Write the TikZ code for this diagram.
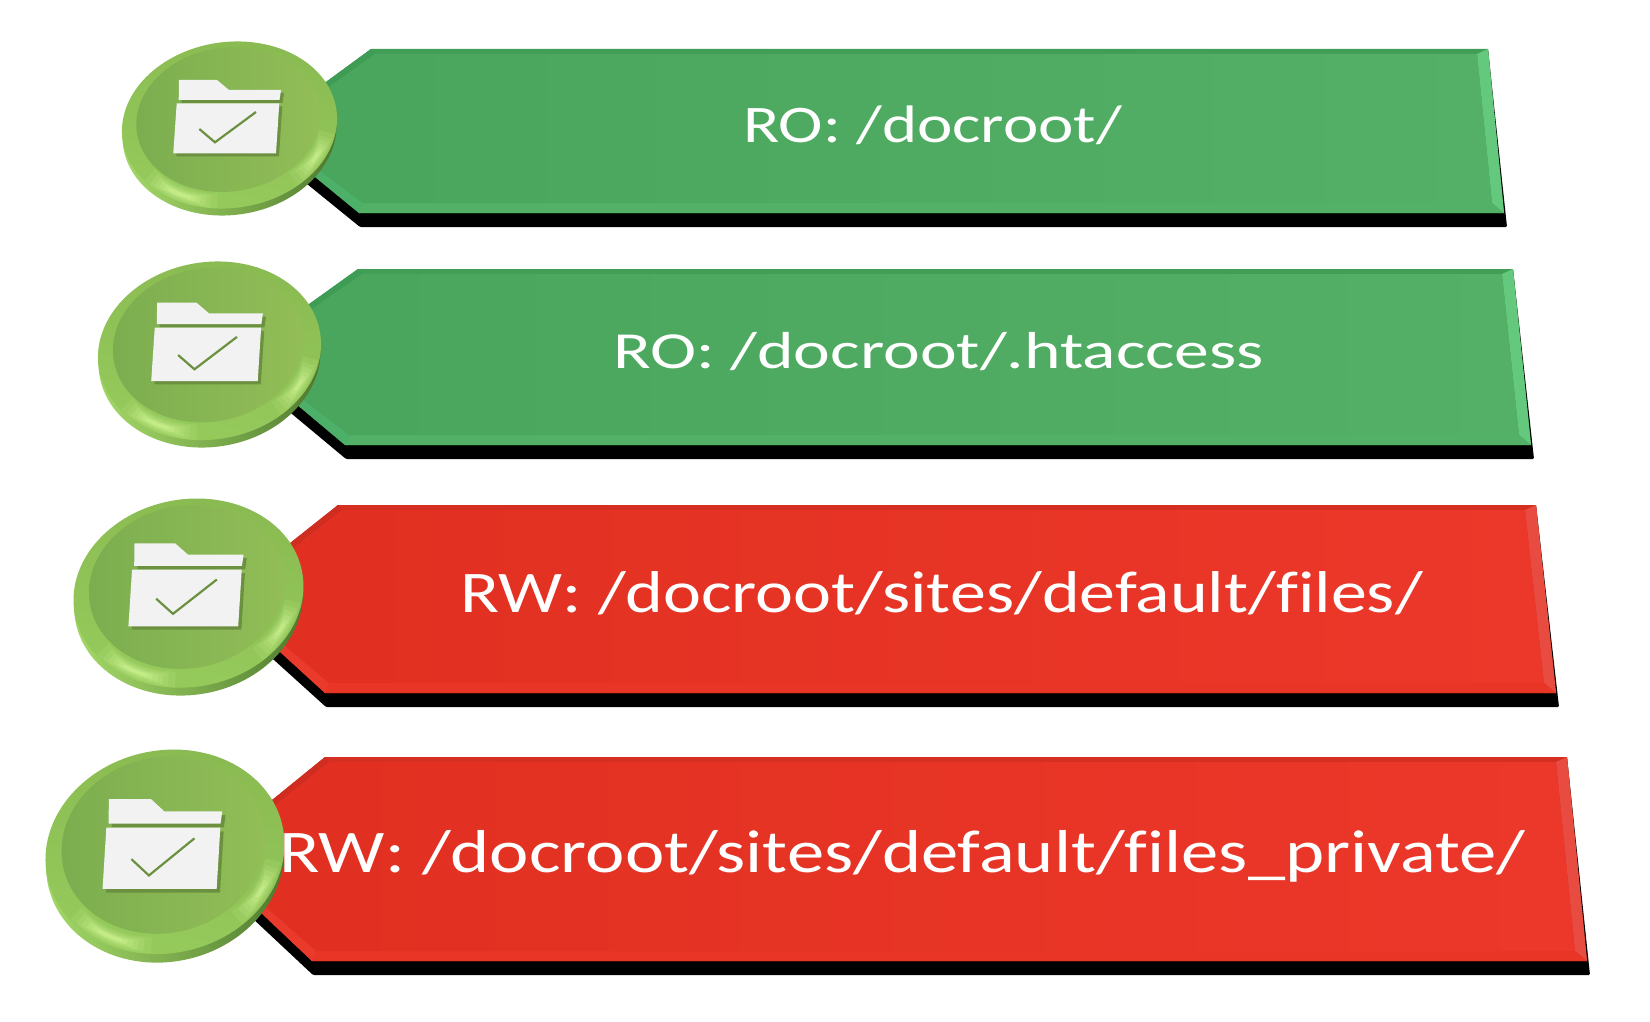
\documentclass[tikz,border=0pt]{standalone}
\usepackage{fontspec}
\usepackage{graphicx}
\setmainfont[Ligatures=NoCommon]{Carlito}
\definecolor{gL}{HTML}{49A55B}\definecolor{gR}{HTML}{55B067}
\definecolor{gTop}{HTML}{429D56}\definecolor{gBot}{HTML}{52B067}\definecolor{gRt}{HTML}{64C97C}\definecolor{gLf}{HTML}{3E9C55}\definecolor{gLb}{HTML}{4CB068}
\definecolor{rL}{HTML}{E02F20}\definecolor{rR}{HTML}{EC382A}
\definecolor{rTop}{HTML}{D42F21}\definecolor{rBot}{HTML}{E83526}\definecolor{rRt}{HTML}{E84B40}\definecolor{rLf}{HTML}{CF2D20}\definecolor{rLb}{HTML}{E93A2C}
\definecolor{foldshadow}{HTML}{6B9140}\definecolor{foldwhite}{HTML}{F2F2F2}
\definecolor{faceL}{HTML}{7BAD4F}\definecolor{faceR}{HTML}{93BE57}
\definecolor{rimT}{HTML}{8ABB52}\definecolor{rimB}{HTML}{96CB5C}
\definecolor{bodyL}{HTML}{A2D666}\definecolor{bodyR}{HTML}{4A742B}
\definecolor{glow}{HTML}{DCFFA0}
\tikzset{
  foldpart/.style={fill=foldwhite},
  foldshad/.style={fill=foldshadow},
  tick/.style={draw=foldshadow,line width=1.1pt,line cap=butt,line join=miter},
  labeltext/.style={anchor=base west,inner sep=0pt,outer sep=0pt,text=white},
}
% TLx, top, TRx, BRx, bottom, BLx, apexX, apexY, prefix
\newcommand{\banner}[9]{%
  \def\TLx{#1}\def\Ty{#2}\def\TRx{#3}\def\BRx{#4}\def\By{#5}\def\BLx{#6}\def\Ax{#7}\def\Ay{#8}\def\pf{#9}%
  \fill[black,rounded corners=0.6pt] (\TRx,\Ty) -- (\BRx+3,\By+14) -- (\BLx+1,\By+14) -- (\Ax,\Ay+14) -- (\Ax,\Ay) -- cycle;
  \fill[\pf Top] (\TLx,\Ty) -- (\TRx,\Ty) -- (\BRx,\By) -- (\BLx,\By) -- (\Ax,\Ay) -- cycle;
  \fill[\pf Rt] (\TRx,\Ty) -- (\BRx,\By) -- (\BRx-12,\By-10) -- (\TRx-11,\Ty+5) -- cycle;
  \fill[\pf Bot] (\BLx,\By) -- (\BRx,\By) -- (\BRx-12,\By-10) -- (\BLx+4,\By-10) -- cycle;
  \fill[\pf Lb] (\BLx,\By) -- (\Ax,\Ay) -- (\Ax+8,\Ay) -- (\BLx+4,\By-10) -- cycle;
  \fill[\pf Lf] (\TLx,\Ty) -- (\Ax,\Ay) -- (\Ax+8,\Ay) -- (\TLx+4,\Ty+5) -- cycle;
  \shade[left color=\pf L,right color=\pf R] (\TLx+4,\Ty+5) -- (\TRx-11,\Ty+5) -- (\BRx-12,\By-10) -- (\BLx+4,\By-10) -- (\Ax+8,\Ay) -- cycle;
}
% cx, cy, sx, sy, node name, folder y offset
\newcommand{\disc}[6]{%
  \begin{scope}[shift={(#1,#2)},xscale=#3,yscale=#4]
    \shade[left color=bodyL,right color=bodyR,shading angle=105] (0,3) ellipse [x radius=107.5,y radius=84,rotate=8];
    \shade[top color=rimT,bottom color=rimB,shading angle=-10] (0,-3) ellipse [x radius=108,y radius=83,rotate=8];
    \begin{scope}
      \clip (0,-3) ellipse [x radius=108,y radius=83,rotate=8];
      \begin{scope}[rotate=8]
        \foreach \w/\o/\d in {16/.10/0,13/.12/4,10/.14/7,7/.17/10,5/.20/13,3/.25/16}{
          \draw[glow,line width=\w*0.5pt,opacity=\o,line cap=butt] (0,-2) ++(15+\d:99 and 75) arc [start angle=15+\d,end angle=55-\d,x radius=99,y radius=75];
          \draw[glow,line width=\w*0.5pt,opacity=\o,line cap=butt] (0,-2) ++(103+\d:99 and 75) arc [start angle=103+\d,end angle=150-\d,x radius=99,y radius=75];
        }
      \end{scope}
    \end{scope}
    \shade[left color=faceL,right color=faceR] (-1.5,-8.5) ellipse [x radius=92,y radius=72,rotate=8];
    \begin{scope}[yshift=#6*(-0.5pt)]
    \begin{scope}[shift={(3,3)}]
      \fill[foldshad] (-50.5,-48) -- (-12.5,-48) -- (-0.5,-38) -- (51.5,-38) -- (50,-28) -- (-50.8,-28) -- cycle;
      \fill[foldshad] (-52.8,-24.7) -- (49.8,-24.7) -- (46.5,25.3) -- (-56.2,25.3) -- cycle;
    \end{scope}
    \fill[foldpart] (-50.5,-48) -- (-12.5,-48) -- (-0.5,-38) -- (51.5,-38) -- (50,-28) -- (-50.8,-28) -- cycle;
    \fill[foldpart] (-52.8,-24.7) -- (49.8,-24.7) -- (46.5,25.3) -- (-56.2,25.3) -- cycle;
    \draw[tick] (-30.2,1) -- (-14.5,14.3) -- (26.5,-16);
    \end{scope}
    \coordinate (#5) at (0,0);
  \end{scope}
}
% name, x1, x2, baseline, cap height, text
\newcommand{\lbl}[6]{%
  \pgfmathsetmacro{\lblw}{(#3-#2)*0.5}%
  \pgfmathsetmacro{\lblh}{#5/0.644*0.5}%
  \node[labeltext] (#1) at (#2,#4) {\resizebox{\lblw pt}{\lblh pt}{\smash{#6}\rule{0pt}{1em}}};
}
\begin{document}
\begin{tikzpicture}[x=0.5pt,y=-0.5pt]
  \useasboundingbox (0,0) rectangle (1650,1022);
  \fill[white] (0,0) rectangle (1650,1022);
  \banner{371}{49}{1488}{1504}{213}{359}{259}{131}{g}
  \banner{358}{269}{1513}{1531}{445}{345}{238}{355}{g}
  \banner{338}{505}{1536}{1556}{693}{325}{221}{598}{r}
  \banner{325}{757}{1567}{1587}{961}{312}{202}{857}{r}
  \disc{229.5}{128}{1}{1}{disc1}{0}
  \disc{209.5}{354}{1.037}{1.069}{disc2}{0}
  \disc{188.5}{596.5}{1.069}{1.132}{disc3}{1}
  \disc{165}{855.5}{1.111}{1.224}{disc4}{2}
  \lbl{t1}{743}{1122}{142}{34}{RO: /docroot/}
  \lbl{t2}{613}{1264}{368}{33.5}{RO: /docroot/.htaccess}
  \lbl{t3}{460}{1423}{612}{38}{RW: /docroot/sites/default/files/}
  \lbl{t4}{279}{1525}{872}{39}{RW: /docroot/sites/default/files\_private/}
\end{tikzpicture}
\end{document}
